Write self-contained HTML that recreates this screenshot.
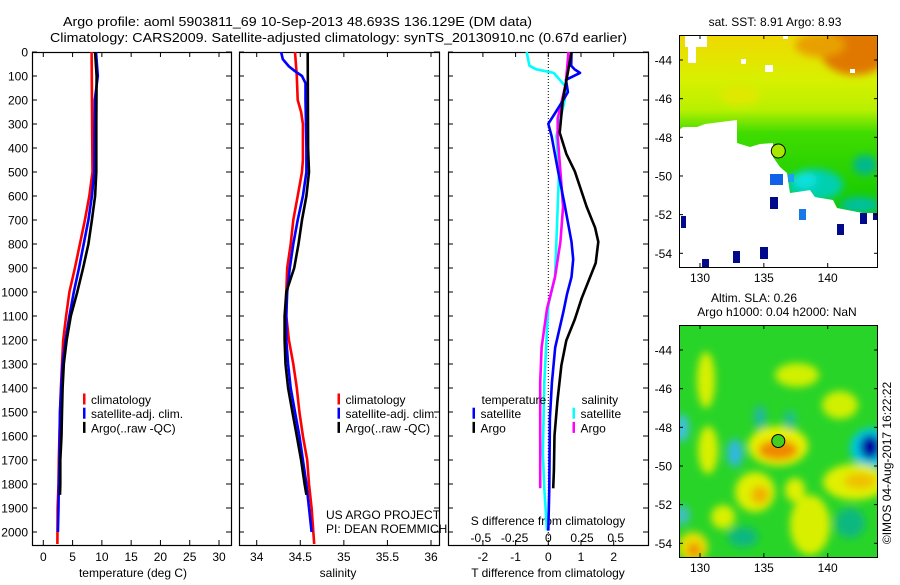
<!DOCTYPE html>
<html><head><meta charset="utf-8"><style>
html,body{margin:0;padding:0;background:#fff;}
svg text{font-family:"Liberation Sans",sans-serif;font-size:12px;fill:#000;}
</style></head><body>
<svg id="fig" width="900" height="580" viewBox="0 0 900 580" xmlns="http://www.w3.org/2000/svg">
<defs>
<clipPath id="c1"><rect x="32" y="52" width="199" height="493"/></clipPath>
<clipPath id="c2"><rect x="239" y="52" width="200" height="493"/></clipPath>
<clipPath id="c3"><rect x="448" y="52" width="200" height="493"/></clipPath>
<clipPath id="m1"><polygon points="679,35 878,35 878,213 863,213 837,208 833,200 815,197 810,190 790,193 787,173 780,167 773,157 773,143 760,144 750,147 737,143 737,120 705,124 697,127 683,127 679,130"/></clipPath>
<clipPath id="m2"><rect x="679" y="325" width="199" height="232"/></clipPath>
<linearGradient id="sstg" x1="0" y1="35" x2="0" y2="213" gradientUnits="userSpaceOnUse">
<stop offset="0" stop-color="#f0d800"/><stop offset="0.25" stop-color="#d8f000"/><stop offset="0.42" stop-color="#b8f000"/><stop offset="0.55" stop-color="#40dc00"/><stop offset="1" stop-color="#10c800"/></linearGradient>
<filter id="bl" x="-50%" y="-50%" width="200%" height="200%"><feGaussianBlur stdDeviation="4"/></filter>
</defs>
<g>
<text x="63" y="26" textLength="469" lengthAdjust="spacingAndGlyphs" style="font-size:13px">Argo profile: aoml 5903811_69 10-Sep-2013 48.693S 136.129E (DM data)</text>
<text x="50" y="42" textLength="577" lengthAdjust="spacingAndGlyphs" style="font-size:13px">Climatology: CARS2009. Satellite-adjusted climatology: synTS_20130910.nc (0.67d earlier)</text>
</g>
<g id="p1"></g>
<g id="p2"></g>
<g id="p3"></g>

<g>
<text x="775" y="26" text-anchor="middle">sat. SST: 8.91  Argo: 8.93</text>
<g clip-path="url(#m1)">
<rect x="679" y="35" width="199" height="180" fill="url(#sstg)"/>
<g filter="url(#bl)">
<ellipse cx="855" cy="50" rx="35" ry="25" fill="#e07800"/>
<ellipse cx="820" cy="45" rx="25" ry="12" fill="#e8a000"/>
<ellipse cx="740" cy="95" rx="20" ry="10" fill="#e0e800"/>
<ellipse cx="815" cy="185" rx="28" ry="16" fill="#00d0b0"/>
<ellipse cx="805" cy="180" rx="12" ry="8" fill="#10e0e0"/>
<ellipse cx="865" cy="165" rx="12" ry="10" fill="#00b890"/>
<ellipse cx="860" cy="205" rx="20" ry="8" fill="#00c0a0"/>
</g>
</g>
<rect x="685" y="35" width="22" height="12" fill="#fff"/><rect x="688" y="47" width="8" height="16" fill="#fff"/><rect x="765" y="65" width="8" height="7" fill="#fff"/><rect x="783" y="35" width="5" height="4" fill="#fff"/><rect x="850" y="69" width="5" height="4" fill="#fff"/><rect x="741" y="59" width="5" height="5" fill="#fff"/>
<rect x="770" y="174" width="13" height="11" fill="#1060e8"/>
<rect x="788" y="174" width="6" height="8" fill="#20a0f0"/>
<rect x="799" y="209" width="7" height="11" fill="#1878e8"/>
<rect x="681" y="216" width="5" height="12" fill="#000a8a"/>
<rect x="770" y="197" width="8" height="12" fill="#000a8a"/>
<rect x="837" y="224" width="7" height="11" fill="#000a8a"/>
<rect x="860" y="213" width="7" height="11" fill="#000a8a"/>
<rect x="873" y="213" width="5" height="7" fill="#000a8a"/>
<rect x="733" y="251" width="7" height="12" fill="#000a8a"/>
<rect x="760" y="247" width="8" height="12" fill="#000a8a"/>
<rect x="702" y="259" width="7" height="8" fill="#000a8a"/>
<circle cx="778.3" cy="151" r="7" fill="#a8e800" stroke="#000" stroke-width="1"/>
<rect x="679.5" y="35.5" width="198" height="232" fill="none" stroke="#000"/>
<g id="m1ax"></g>
</g>

<g>
<text x="754" y="302" text-anchor="middle">Altim. SLA: 0.26</text>
<text x="777" y="316" text-anchor="middle">Argo h1000: 0.04 h2000: NaN</text>
<g clip-path="url(#m2)">
<rect x="679" y="325" width="199" height="232" fill="#28d428"/>
<g filter="url(#bl)">
<ellipse cx="706" cy="380" rx="9" ry="28" fill="#d8f000"/>
<ellipse cx="797" cy="375" rx="22" ry="12" fill="#d0f000"/>
<ellipse cx="840" cy="405" rx="18" ry="14" fill="#d0f000"/>
<ellipse cx="778" cy="446" rx="30" ry="20" fill="#e8f000"/>
<ellipse cx="778" cy="450" rx="20" ry="10" fill="#f08800"/>
<ellipse cx="872" cy="448" rx="22" ry="20" fill="#00c8e0"/>
<ellipse cx="870" cy="447" rx="10" ry="12" fill="#0000a0"/>
<ellipse cx="682" cy="428" rx="7" ry="14" fill="#40c0e0"/>
<ellipse cx="735" cy="453" rx="8" ry="14" fill="#30b8e0"/>
<ellipse cx="760" cy="417" rx="6" ry="12" fill="#20b8a0"/>
<ellipse cx="708" cy="450" rx="10" ry="24" fill="#d8f000"/>
<ellipse cx="755" cy="492" rx="20" ry="20" fill="#e0f000"/>
<ellipse cx="760" cy="495" rx="9" ry="9" fill="#f0b000"/>
<ellipse cx="795" cy="490" rx="10" ry="12" fill="#e0f000"/>
<ellipse cx="855" cy="482" rx="32" ry="18" fill="#e0f000"/>
<ellipse cx="860" cy="481" rx="16" ry="8" fill="#f0c000"/>
<ellipse cx="810" cy="525" rx="20" ry="30" fill="#d8f000"/>
<ellipse cx="693" cy="547" rx="15" ry="15" fill="#e8e000"/>
<ellipse cx="694" cy="550" rx="7" ry="7" fill="#f09000"/>
<ellipse cx="723" cy="517" rx="12" ry="12" fill="#d8f000"/>
<ellipse cx="850" cy="523" rx="15" ry="15" fill="#10b880"/>
<ellipse cx="743" cy="537" rx="15" ry="10" fill="#10b880"/>
<ellipse cx="790" cy="420" rx="6" ry="10" fill="#20c090"/>
<ellipse cx="682" cy="515" rx="8" ry="10" fill="#40c0c0"/>
</g>
</g>
<circle cx="778.3" cy="441" r="6.5" fill="#40d020" stroke="#000" stroke-width="1"/>
<rect x="679.5" y="325.5" width="198" height="232" fill="none" stroke="#000"/>
<g id="m2ax"></g>
<text transform="translate(891,463) rotate(-90)" text-anchor="middle">©IMOS 04-Aug-2017 16:22:22</text>
</g>
</svg>
<script>
// ---- data ----
const tClimDepth=[0,500,600,700,800,900,1000,1100,1200,1300,1400,1500,1600,1700,1800,1900,2050];
const tClimVal=[8.25,8.4,7.85,7.1,6.25,5.4,4.45,3.9,3.4,3.2,3.0,2.85,2.75,2.65,2.6,2.45,2.4];
const tSatDepth=[0,100,200,500,600,700,800,900,1000,1100,1200,1300,1400,1500,1600,1700,1800,1900,2000];
const tSatVal=[9.0,9.3,8.8,8.7,8.3,7.7,6.9,6.1,5.2,4.45,3.8,3.3,3.05,2.85,2.8,2.75,2.65,2.6,2.5];
const tArgoDepth=[0,100,300,500,600,700,800,900,1000,1100,1200,1300,1400,1500,1600,1700,1800,1845];
const tArgoVal=[8.85,9.1,9.05,9.05,8.85,8.3,7.7,6.8,5.8,4.7,4.0,3.5,3.3,3.2,3.1,2.9,2.9,2.85];

const sClimDepth=[0,100,200,250,300,450,500,600,700,800,900,1000,1100,1200,1300,1400,1500,1600,1700,1800,1900,2050];
const sClimVal=[34.44,34.46,34.47,34.51,34.53,34.53,34.52,34.47,34.42,34.39,34.35,34.34,34.34,34.37,34.42,34.46,34.49,34.53,34.58,34.60,34.63,34.66];
const sSatDepth=[0,30,60,80,100,130,200,400,500,600,700,800,900,1000,1100,1200,1300,1400,1500,1600,1700,1800,1900,2000];
const sSatVal=[34.28,34.30,34.37,34.44,34.52,34.56,34.56,34.57,34.57,34.53,34.47,34.42,34.38,34.35,34.34,34.34,34.36,34.39,34.44,34.49,34.53,34.57,34.60,34.63];
const sArgoDepth=[0,400,500,600,700,800,900,1000,1100,1200,1300,1400,1500,1600,1700,1800,1845];
const sArgoVal=[34.585,34.59,34.6,34.57,34.52,34.48,34.43,34.34,34.32,34.32,34.33,34.36,34.41,34.46,34.51,34.55,34.57];

const dTArgoDepth=[0,204,336,424,497,644,732,791,879,1026,1114,1202,1305,1451,1598,1744,1818];
const dTArgoVal=[0.71,0.44,0.35,0.55,0.81,1.17,1.43,1.53,1.45,1.02,0.81,0.55,0.40,0.28,0.19,0.17,0.15];
const dTSatDepth=[0,57,72,87,116,167,204,248,299,351,497,644,791,864,938,1011,1084,1231,1378,1525,1818,1994];
const dTSatVal=[0.71,0.70,0.80,0.97,0.54,0.6,0.44,0.24,0.0,0.1,0.30,0.51,0.71,0.76,0.71,0.57,0.46,0.21,0.11,0.05,0.03,0.0];
const dSSatDepth=[0,57,72,87,145,204,351,497,644,791,938,1055,1158,1378,1671,1818,1994];
const dSSatVal=[-0.16,-0.14,-0.09,0.04,0.13,0.12,0.06,0.08,0.07,0.06,0.05,0.0,-0.01,-0.03,-0.04,-0.03,-0.01];
const dSArgoDepth=[0,131,277,351,497,644,791,938,1070,1231,1378,1598,1818];
const dSArgoVal=[0.15,0.13,0.07,0.07,0.09,0.11,0.09,0.05,-0.01,-0.05,-0.06,-0.06,-0.06];

const depthTicks=[0,100,200,300,400,500,600,700,800,900,1000,1100,1200,1300,1400,1500,1600,1700,1800,1900,2000];
const tempTicks=[0,5,10,15,20,25,30];
const salTicks=[34,34.5,35,35.5,36];
const salTickLabels=["34","34.5","35","35.5","36"];
const dTTicks=[-2,-1,0,1,2];
const dSTicks=[-0.5,-0.25,0,0.25,0.5];
const dSTickLabels=["-0.5","-0.25","0","0.25","0.5"];
const lonTicks=[130,135,140];
const latTicks=[-44,-46,-48,-50,-52,-54];

// ---- scales ----
const TOP=52, BOT=545;
const yD=d=>TOP+d*0.24;
const xT=t=>43.3+t*5.857;
const xS=s=>256.7+(s-34)*87.15;
const xDT=t=>548.3+t*32.7;
const xDS=s=>548.3+s*134.8;
const lonX=l=>700+(l-130)*12.77;
const lat1Y=l=>60+(-44-l)*19.33;
const lat2Y=l=>350+(-44-l)*19.33;

const NS="http://www.w3.org/2000/svg";
function mk(tag,parent,attrs){const e=document.createElementNS(NS,tag);for(const k in attrs)e.setAttribute(k,attrs[k]);parent.appendChild(e);return e;}

function frame(g,x0,x1){
  const r=mk('rect',g,{x:x0+0.5,y:TOP+0.5,width:x1-x0,height:BOT-TOP,fill:'none',stroke:'#000','stroke-width':1.2});
  
  
  depthTicks.forEach(d=>{
    mk('line',g,{x1:x0,x2:x0+5,y1:yD(d),y2:yD(d),stroke:'#000'});
    mk('line',g,{x1:x1-5,x2:x1+1,y1:yD(d),y2:yD(d),stroke:'#000'});
  });
}
function xticks(g,vals,fx,labels,ly){
  vals.forEach((v,i)=>{
    const x=fx(v);
    mk('line',g,{x1:x,x2:x,y1:TOP,y2:TOP+5,stroke:'#000'});
    mk('line',g,{x1:x,x2:x,y1:BOT-5,y2:BOT,stroke:'#000'});
    if(labels){const t=mk('text',g,{x:x,y:ly,'text-anchor':'middle'});t.textContent=labels[i];
      
      }
  });
}
function line(g,ds,vs,fx,col,name,clip){
  const p=mk('polyline',g,{points:ds.map((d,i)=>fx(vs[i]).toFixed(1)+','+yD(d).toFixed(1)).join(' '),fill:'none',stroke:col,'stroke-width':2.6,'stroke-linejoin':'round','clip-path':clip});
  
  
}
function legend(g,x,y,items){
  items.forEach((it,i)=>{
    if(it[1]) mk('rect',g,{x:x,y:y+i*14.2-6,width:2.5,height:11,fill:it[1]});
    const t=mk('text',g,{x:x+(it[1]?8:9),y:y+i*14.2+4.5});t.textContent=it[0];
    
    
  });
}
function label(g,x,y,txt,anchor,name){const t=mk('text',g,{x:x,y:y,'text-anchor':anchor||'middle'});t.textContent=txt;
  
  return t;}

// panel 1
const p1=document.getElementById('p1');
frame(p1,32,231);
depthTicks.forEach(d=>{label(p1,28,yD(d)+4.5,String(d),'end','y-tick-label');});
xticks(p1,tempTicks,xT,tempTicks.map(String),561);
label(p1,133,577,'temperature (deg C)','middle','x-axis-title-temperature');
line(p1,tClimDepth,tClimVal,xT,'#ff0000','temp-climatology-line','url(#c1)');
line(p1,tSatDepth,tSatVal,xT,'#0000ff','temp-satellite-line','url(#c1)');
line(p1,tArgoDepth,tArgoVal,xT,'#000000','temp-argo-line','url(#c1)');
legend(p1,83,399.5,[['climatology','#ff0000'],['satellite-adj. clim.','#0000ff'],['Argo(..raw -QC)','#000']]);

// panel 2
const p2=document.getElementById('p2');
frame(p2,239,439);
xticks(p2,salTicks,xS,salTickLabels,561);
label(p2,338,577,'salinity','middle','x-axis-title-salinity');
line(p2,sClimDepth,sClimVal,xS,'#ff0000','sal-climatology-line','url(#c2)');
line(p2,sSatDepth,sSatVal,xS,'#0000ff','sal-satellite-line','url(#c2)');
line(p2,sArgoDepth,sArgoVal,xS,'#000000','sal-argo-line','url(#c2)');
legend(p2,337.5,399.5,[['climatology','#ff0000'],['satellite-adj. clim.','#0000ff'],['Argo(..raw -QC)','#000']]);
label(p2,326,519,'US ARGO PROJECT','start','credit-project');
label(p2,326,533,'PI: DEAN ROEMMICH','start','credit-pi');

// panel 3
const p3=document.getElementById('p3');
frame(p3,448,648);
xticks(p3,dTTicks,xDT,dTTicks.map(String),561);
dSTicks.forEach((v,i)=>{label(p3,xDS(v),542,dSTickLabels[i],'middle','s-tick-label');});
label(p3,548,525,'S difference from climatology','middle','s-axis-title');
label(p3,548,577,'T difference from climatology','middle','t-axis-title');
const zl=mk('line',p3,{x1:548.3,x2:548.3,y1:TOP,y2:BOT,stroke:'#000','stroke-dasharray':'1,2'});


line(p3,dSSatDepth,dSSatVal,xDS,'#00ffff','s-diff-satellite-line','url(#c3)');
line(p3,dSArgoDepth,dSArgoVal,xDS,'#ff00ff','s-diff-argo-line','url(#c3)');
line(p3,dTSatDepth,dTSatVal,xDT,'#0000ff','t-diff-satellite-line','url(#c3)');
line(p3,dTArgoDepth,dTArgoVal,xDT,'#000000','t-diff-argo-line','url(#c3)');
legend(p3,472.5,399.5,[['temperature',null],['satellite','#0000ff'],['Argo','#000']]);
legend(p3,572.5,399.5,[['salinity',null],['satellite','#00ffff'],['Argo','#ff00ff']]);

// map axes
function mapAxes(g,top,bot,latY){
  lonTicks.forEach(l=>{const x=lonX(l);
    mk('line',g,{x1:x,x2:x,y1:top,y2:top+4,stroke:'#000'});
    mk('line',g,{x1:x,x2:x,y1:bot-4,y2:bot,stroke:'#000'});
    label(g,x,bot+15,String(l),'middle','lon-tick-label');});
  latTicks.forEach(l=>{const y=latY(l);
    mk('line',g,{x1:679,x2:683,y1:y,y2:y,stroke:'#000'});
    mk('line',g,{x1:874,x2:878,y1:y,y2:y,stroke:'#000'});
    label(g,672,y+4.5,String(l),'end','lat-tick-label');});
}
mapAxes(document.getElementById('m1ax'),35,267,lat1Y);
mapAxes(document.getElementById('m2ax'),325,557,lat2Y);
</script>
</body></html>
